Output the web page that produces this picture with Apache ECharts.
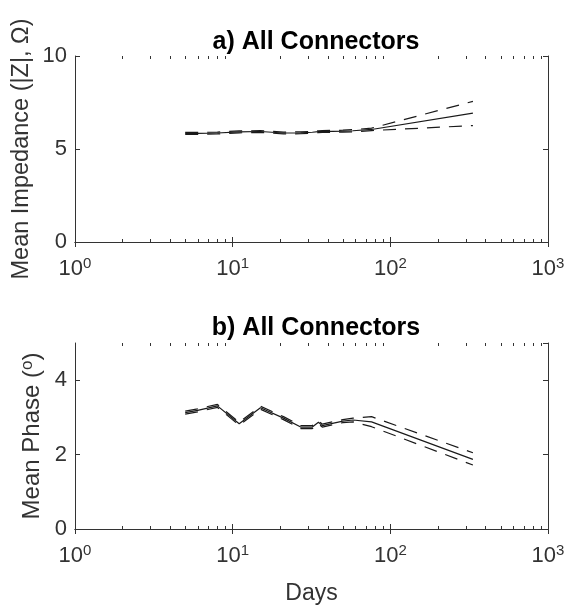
<!DOCTYPE html>
<html>
<head>
<meta charset="utf-8">
<script src="https://cdn.jsdelivr.net/npm/echarts@6/dist/echarts.min.js"></script>
<style>
  html, body { margin: 0; padding: 0; background: #fff; }
  #chart { width: 568px; height: 608px; }
</style>
</head>
<body>
<div id="chart"></div>
<script>
// Measurement days (log-scaled x axis)
const days = [5, 6, 8, 11, 15, 21, 27, 32, 35, 37, 43, 50, 58, 76, 334];

// a) Mean impedance |Z| (Ω) with upper / lower bounds
const impedanceMean  = [5.84, 5.84, 5.86, 5.92, 5.94, 5.86, 5.87, 5.90, 5.93, 5.94, 5.95, 5.96, 5.98, 6.05, 6.93];
const impedanceUpper = [5.89, 5.89, 5.91, 5.97, 5.99, 5.91, 5.92, 5.95, 5.98, 5.99, 6.00, 6.01, 6.04, 6.12, 7.56];
const impedanceLower = [5.79, 5.79, 5.81, 5.87, 5.89, 5.81, 5.82, 5.85, 5.88, 5.89, 5.90, 5.91, 5.92, 5.99, 6.26];

// b) Mean phase (degrees) with upper / lower bounds
const phaseMean  = [3.13, 3.19, 3.31, 2.83, 3.26, 2.98, 2.74, 2.74, 2.87, 2.78, 2.84, 2.90, 2.93, 2.88, 1.87];
const phaseUpper = [3.17, 3.23, 3.35, 2.87, 3.30, 3.02, 2.78, 2.78, 2.91, 2.82, 2.88, 2.94, 2.98, 3.02, 2.05];
const phaseLower = [3.09, 3.15, 3.27, 2.79, 3.22, 2.94, 2.70, 2.70, 2.83, 2.74, 2.80, 2.86, 2.88, 2.75, 1.72];

// Axis settings
const xRange = [1, 1000];
const impedanceTicks = { min: 0, max: 10, interval: 5 };
const phaseTicks = { min: 0, max: 5, interval: 2 };
const minorTickValues = [2, 3, 4, 5, 6, 7, 8, 9, 20, 30, 40, 50, 60, 70, 80, 90, 200, 300, 400, 500, 600, 700, 800, 900];

const titles = ['a) All Connectors', 'b) All Connectors'];

const AXIS_COLOR = '#333333';
const TEXT_COLOR = '#333333';
const FONT = 'Liberation Sans, Arial, Helvetica, sans-serif';
const LINE_COLOR = '#1a1a1a';

const chart = echarts.init(document.getElementById('chart'), null, { renderer: 'canvas' });

const grids = [
  { left: 75, top: 56, width: 473, height: 186 },
  { left: 75, top: 343, width: 473, height: 186 }
];

function pairs(xs, ys) {
  return xs.map((x, i) => [x, ys[i]]);
}

function logLabel(value) {
  const p = Math.round(Math.log10(value));
  return '{b|10}{s|' + p + '}';
}

const xLabelRich = {
  b: { fontSize: 22, fontFamily: FONT, color: TEXT_COLOR, lineHeight: 26 },
  s: { fontSize: 15, fontFamily: FONT, color: TEXT_COLOR, lineHeight: 16, verticalAlign: 'top' }
};

function xAxes(gridIndex, withName) {
  const common = {
    gridIndex,
    type: 'log',
    logBase: 10,
    min: xRange[0],
    max: xRange[1],
    splitLine: { show: false },
    axisLine: { show: true, lineStyle: { color: AXIS_COLOR, width: 1 } },
    axisTick: { show: true, inside: true, length: 5, lineStyle: { color: AXIS_COLOR, width: 1 } }
  };
  const bottom = Object.assign({}, common, {
    position: 'bottom',
    axisLabel: {
      show: true, margin: 14, formatter: logLabel, rich: xLabelRich,
      showMinLabel: true, showMaxLabel: true
    }
  });
  if (withName) {
    Object.assign(bottom, {
      name: 'Days',
      nameLocation: 'middle',
      nameGap: 53,
      nameMoveOverlap: false,
      nameTextStyle: { fontSize: 23, fontFamily: FONT, color: TEXT_COLOR }
    });
  }
  const top = Object.assign({}, common, {
    position: 'top',
    axisLabel: { show: false }
  });
  return [bottom, top];
}

function yAxes(gridIndex, ticks, name, nameGap, nameSize) {
  const common = {
    gridIndex,
    type: 'value',
    min: ticks.min,
    max: ticks.max,
    interval: ticks.interval,
    splitLine: { show: false },
    axisLine: { show: true, lineStyle: { color: AXIS_COLOR, width: 1 } },
    axisTick: { show: true, inside: true, length: 5, lineStyle: { color: AXIS_COLOR, width: 1 } }
  };
  const left = Object.assign({}, common, {
    position: 'left',
    axisLabel: {
      show: true, margin: 8, fontSize: 22, fontFamily: FONT, color: TEXT_COLOR,
      showMaxLabel: ticks.max % ticks.interval === 0
    },
    name: name,
    nameLocation: 'middle',
    nameRotate: 90,
    nameGap: nameGap,
    nameMoveOverlap: false,
    nameTextStyle: {
      fontSize: nameSize, fontFamily: FONT, color: TEXT_COLOR,
      rich: {
        t: { fontSize: nameSize, fontFamily: FONT, color: TEXT_COLOR, lineHeight: 26 },
        s: { fontSize: 17, fontFamily: FONT, color: TEXT_COLOR, lineHeight: 18, verticalAlign: 'top' }
      }
    }
  });
  const right = Object.assign({}, common, {
    position: 'right',
    axisLabel: { show: false }
  });
  return [left, right];
}

function lineSeries(xAxisIndex, yAxisIndex, ys, dashed) {
  return {
    type: 'line',
    xAxisIndex, yAxisIndex,
    data: pairs(days, ys),
    showSymbol: false,
    symbol: 'none',
    silent: true,
    animation: false,
    lineStyle: {
      color: LINE_COLOR,
      width: 1.2,
      type: dashed ? [13, 9] : 'solid'
    },
    z: 3
  };
}

// Log-axis minor ticks (2..9 per decade) on the bottom and top edges
function minorTickSeries(xAxisIndex, yAxisIndex) {
  return {
    type: 'custom',
    xAxisIndex, yAxisIndex,
    silent: true,
    animation: false,
    clip: false,
    data: minorTickValues.map(v => [v, 0]),
    renderItem(params, api) {
      const cs = params.coordSys;
      const x = Math.round(api.coord([api.value(0), 0])[0]) + 0.5;
      const yb = cs.y + cs.height;
      const yt = cs.y;
      const style = { stroke: AXIS_COLOR, lineWidth: 1 };
      return {
        type: 'group',
        children: [
          { type: 'line', shape: { x1: x, y1: yb, x2: x, y2: yb - 3 }, style },
          { type: 'line', shape: { x1: x, y1: yt, x2: x, y2: yt + 3 }, style }
        ]
      };
    }
  };
}

const [xA0, xA1] = xAxes(0, false);
const [xB0, xB1] = xAxes(1, true);
const [yA0, yA1] = yAxes(0, impedanceTicks, 'Mean Impedance (|Z|, Ω)', 41, 23.5);
const [yB0, yB1] = yAxes(1, phaseTicks, '{t|Mean Phase (}{s|o}{t|)}', 30, 24);

const option = {
  animation: false,
  backgroundColor: '#ffffff',
  title: [
    {
      text: titles[0], left: 311, top: 25, textAlign: 'center',
      textStyle: { fontSize: 25, fontWeight: 'bold', fontFamily: FONT, color: '#000' }
    },
    {
      text: titles[1], left: 311, top: 311, textAlign: 'center',
      textStyle: { fontSize: 25, fontWeight: 'bold', fontFamily: FONT, color: '#000' }
    }
  ],
  grid: grids,
  // axis indices: 0 = a) bottom, 1 = a) top, 2 = b) bottom, 3 = b) top
  xAxis: [xA0, xA1, xB0, xB1],
  // axis indices: 0 = a) left, 1 = a) right, 2 = b) left, 3 = b) right
  yAxis: [yA0, yA1, yB0, yB1],
  series: [
    lineSeries(0, 0, impedanceUpper, true),
    lineSeries(0, 0, impedanceMean, false),
    lineSeries(0, 0, impedanceLower, true),
    lineSeries(2, 2, phaseUpper, true),
    lineSeries(2, 2, phaseMean, false),
    lineSeries(2, 2, phaseLower, true),
    minorTickSeries(0, 0),
    minorTickSeries(2, 2)
  ]
};

chart.setOption(option);
</script>
</body>
</html>
